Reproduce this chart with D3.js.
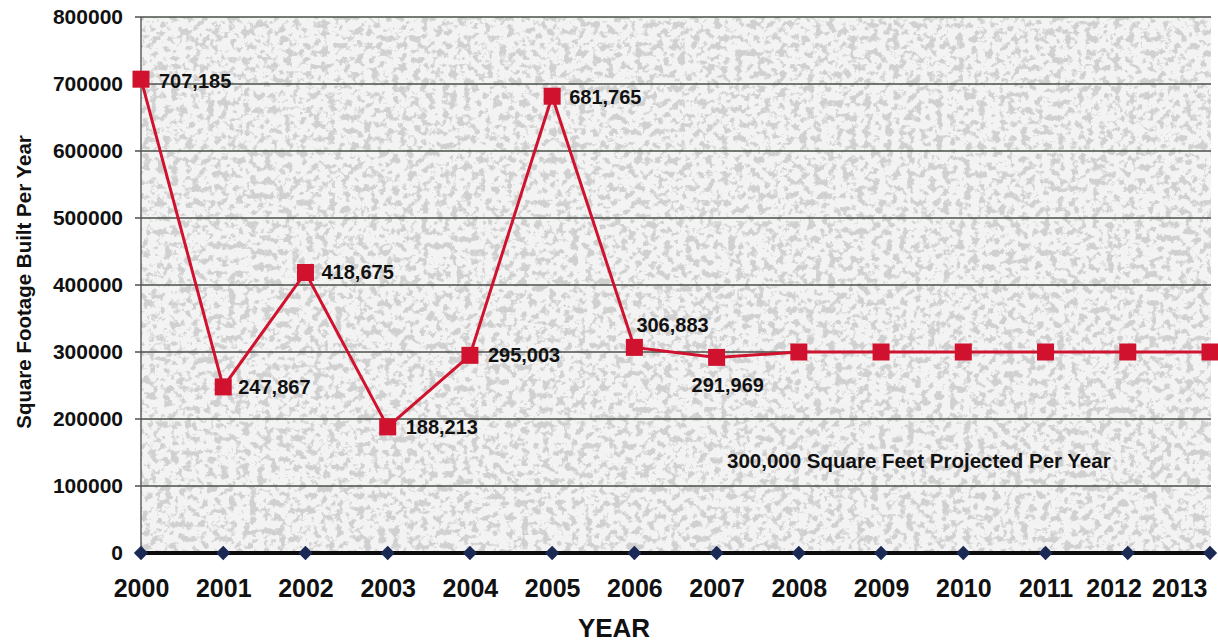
<!DOCTYPE html>
<html>
<head>
<meta charset="utf-8">
<script src="https://cdn.jsdelivr.net/npm/d3@7"></script>
<style>
  html, body { margin: 0; padding: 0; background: #ffffff; }
  svg { display: block; font-family: "Liberation Sans", Arial, sans-serif; }
</style>
</head>
<body>
<svg id="chart" width="1218" height="643"></svg>
<script>
// Square footage built per year, with the flat projection from 2008 on
const years = ["2000","2001","2002","2003","2004","2005","2006","2007","2008","2009","2010","2011","2012","2013"];
const builtValues = [707185, 247867, 418675, 188213, 295003, 681765, 306883, 291969, 300000, 300000, 300000, 300000, 300000, 300000];
const baselineValues = [0, 0, 0, 0, 0, 0, 0, 0, 0, 0, 0, 0, 0, 0];
const labelledYears = ["2000","2001","2002","2003","2004","2005","2006","2007"];
const yTickValues = [0, 100000, 200000, 300000, 400000, 500000, 600000, 700000, 800000];
const projectionNote = "300,000 Square Feet Projected Per Year";
const yTitle = "Square Footage Built Per Year";
const xTitle = "YEAR";

const svg = d3.select("#chart");
const plot = { left: 141, right: 1211, top: 17, bottom: 553 };

const x = d3.scalePoint().domain(years).range([plot.left, plot.right - 1]).padding(0);
const y = d3.scaleLinear().domain([0, 800000]).range([plot.bottom, plot.top]);

// Speckled grey fill of the plot area
const defs = svg.append("defs");
const f = defs.append("filter").attr("id", "speckle")
  .attr("x", 0).attr("y", 0).attr("width", 1).attr("height", 1);
f.append("feTurbulence").attr("type", "fractalNoise").attr("baseFrequency", "0.14")
  .attr("numOctaves", 3).attr("seed", 11).attr("result", "noise");
f.append("feColorMatrix").attr("in", "noise").attr("type", "matrix")
  .attr("values", "0 0 0 0 0.58  0 0 0 0 0.58  0 0 0 0 0.58  3.6 0 0 0 -1.5")
  .attr("result", "blobs");
f.append("feComponentTransfer").attr("in", "blobs").attr("result", "spots")
  .append("feFuncA").attr("type", "discrete").attr("tableValues", "0 0 0.45 0.7 0.85");
f.append("feFlood").attr("flood-color", "#f3f3f3").attr("result", "base");
f.append("feComposite").attr("in", "spots").attr("in2", "base").attr("operator", "over");

svg.append("rect")
  .attr("x", plot.left).attr("y", plot.top)
  .attr("width", plot.right - plot.left).attr("height", plot.bottom - plot.top)
  .attr("filter", "url(#speckle)");

// Horizontal gridlines
svg.append("g").selectAll("line")
  .data(yTickValues.filter(v => v > 0))
  .join("line")
  .attr("x1", plot.left - 6).attr("x2", plot.right)
  .attr("y1", d => y(d)).attr("y2", d => y(d))
  .attr("stroke", "#4a504a").attr("stroke-width", 1.6);

// Y axis line
svg.append("line")
  .attr("x1", plot.left).attr("x2", plot.left)
  .attr("y1", plot.top).attr("y2", plot.bottom)
  .attr("stroke", "#555").attr("stroke-width", 1.4);

// Y tick labels
const yAxis = d3.axisLeft(y).tickValues(yTickValues).tickFormat(d3.format("d")).tickSize(0).tickPadding(18);
const gy = svg.append("g").attr("transform", `translate(${plot.left},0)`).call(yAxis);
gy.select(".domain").remove();
gy.selectAll("text")
  .attr("font-size", 21).attr("font-weight", "bold").attr("fill", "#111")
  .attr("font-family", "'Liberation Sans', Arial, sans-serif");

// X tick labels
const xAxis = d3.axisBottom(x).tickSize(0).tickPadding(26);
const gx = svg.append("g").attr("transform", `translate(0,${plot.bottom})`).call(xAxis);
gx.select(".domain").remove();
gx.selectAll("text")
  .attr("font-size", 25).attr("font-weight", "bold").attr("fill", "#111")
  .attr("font-family", "'Liberation Sans', Arial, sans-serif");
// pull the last two labels in so they stay inside the chart and apart
const xt = gx.selectAll("text").nodes();
const n = xt.length;
const wLast = xt[n - 1].getComputedTextLength();
const cLast = Math.min(x(years[n - 1]), 1207 - wLast / 2);
d3.select(xt[n - 1]).attr("dx", cLast - x(years[n - 1]));
const wPrev = xt[n - 2].getComputedTextLength();
const cPrev = Math.min(x(years[n - 2]), cLast - wLast / 2 - 10 - wPrev / 2);
d3.select(xt[n - 2]).attr("dx", cPrev - x(years[n - 2]));

// Axis titles
svg.append("text")
  .attr("x", 614).attr("y", 637)
  .attr("text-anchor", "middle").attr("font-size", 26).attr("font-weight", "bold")
  .attr("fill", "#111").text(xTitle);
svg.append("text")
  .attr("transform", `translate(31,282) rotate(-90)`)
  .attr("text-anchor", "middle").attr("font-size", 20.5).attr("font-weight", "bold")
  .attr("fill", "#111").text(yTitle);

// Baseline series at zero
svg.append("path")
  .datum(baselineValues)
  .attr("fill", "none").attr("stroke", "#0d0d0d").attr("stroke-width", 4)
  .attr("d", d3.line().x((d, i) => x(years[i])).y(d => y(d)));
svg.append("g").selectAll("path")
  .data(baselineValues)
  .join("path")
  .attr("transform", (d, i) => `translate(${x(years[i])},${y(d)})`)
  .attr("d", d3.symbol().type(d3.symbolDiamond2).size(130))
  .attr("fill", "#1b2a55");

// Built / projected series
const red = "#d0122e";
svg.append("path")
  .datum(builtValues)
  .attr("fill", "none").attr("stroke", red).attr("stroke-width", 3)
  .attr("d", d3.line().x((d, i) => x(years[i])).y(d => y(d)));
svg.append("g").selectAll("rect")
  .data(builtValues)
  .join("rect")
  .attr("x", (d, i) => x(years[i]) - 8.5).attr("y", d => y(d) - 8.5)
  .attr("width", 17).attr("height", 17)
  .attr("fill", red);

// Value labels
const fmt = d3.format(",");
const labelPos = {
  "2000": [18, 9], "2001": [15, 7], "2002": [16, 7], "2003": [18, 7],
  "2004": [18, 7], "2005": [17, 8], "2006": [2, -15], "2007": [-25, 35]
};
svg.append("g").selectAll("text")
  .data(labelledYears)
  .join("text")
  .attr("x", d => x(d) + labelPos[d][0])
  .attr("y", d => y(builtValues[years.indexOf(d)]) + labelPos[d][1])
  .attr("font-size", 20).attr("font-weight", "bold").attr("fill", "#111")
  .text(d => fmt(builtValues[years.indexOf(d)]));

svg.append("text")
  .attr("x", 727).attr("y", 468)
  .attr("font-size", 20.5).attr("font-weight", "bold").attr("fill", "#111")
  .text(projectionNote);
</script>
</body>
</html>
